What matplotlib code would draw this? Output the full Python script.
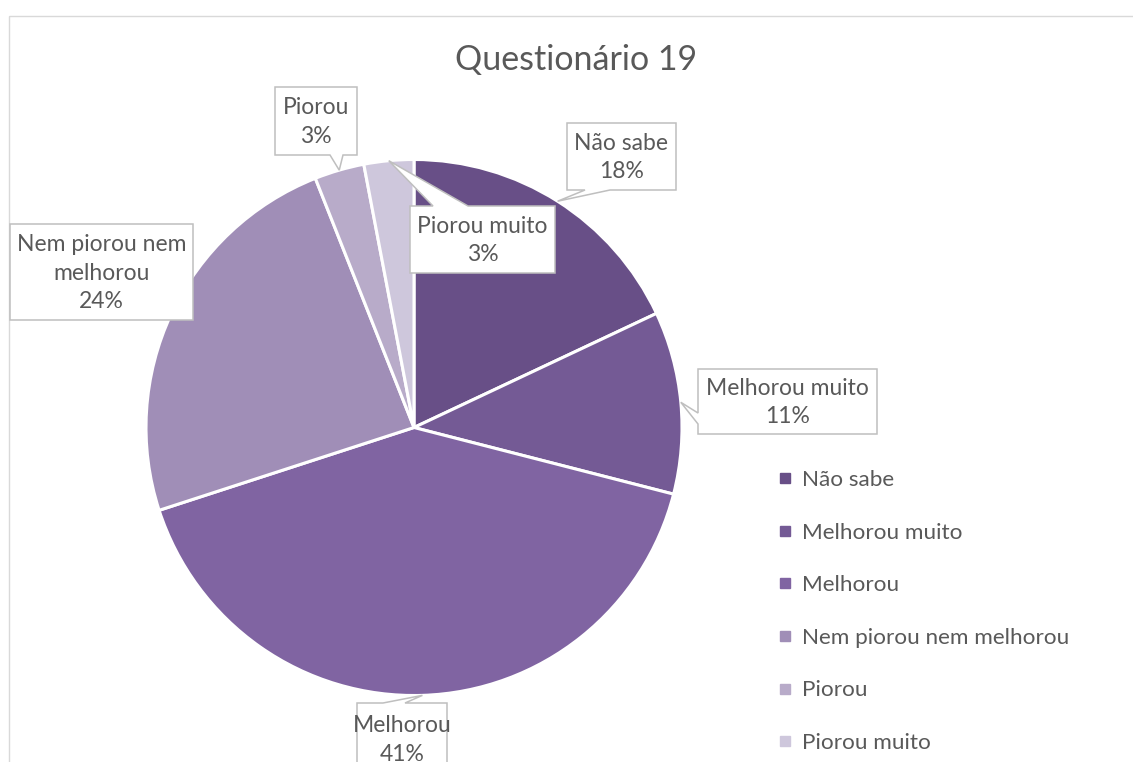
import matplotlib
matplotlib.use("Agg")
import matplotlib.pyplot as plt
import numpy as np
from matplotlib.patches import Polygon, Rectangle
from matplotlib.lines import Line2D

# Survey answers (percent of respondents)
categories = ["Não sabe", "Melhorou muito", "Melhorou",
              "Nem piorou nem melhorou", "Piorou", "Piorou muito"]
values = [18, 11, 41, 24, 3, 3]
label_texts = ["Não sabe", "Melhorou muito", "Melhorou",
               "Nem piorou nem\nmelhorou", "Piorou", "Piorou muito"]
colors = ["#684F87", "#745A95", "#8064A2", "#A08EB7", "#B8ABC9", "#CEC7DC"]
title = "Questionário 19"

W, H = 1133, 762
FONT = "Lato"
TEXT = "#595959"
fig = plt.figure(figsize=(W / 100, H / 100), dpi=100)
fig.patch.set_facecolor("white")

# chart frame
fig.add_artist(Rectangle((8.5 / W, 1 - 16 / H), 2, -2, transform=fig.transFigure,
                         fill=False, edgecolor="#D9D9D9", linewidth=1.0))

cx, cy, R = 414, 427.5, 268
ax = fig.add_axes([(cx - R) / W, 1 - (cy + R) / H, 2 * R / W, 2 * R / H])
ax.axis("off")

wedges, _ = ax.pie(values, colors=colors, startangle=90, counterclock=False,
                   radius=1.0, center=(0, 0), frame=False,
                   wedgeprops=dict(edgecolor="white", linewidth=2.2))
ax.set_xlim(-1, 1)
ax.set_ylim(-1, 1)
ax.set_aspect("auto")

fig.text(576 / W, 1 - 60 / H, title, ha="center", va="center",
         fontsize=24.5, color=TEXT, family=FONT)


def to_fig(px, py):
    return (px / W, 1 - py / H)


def edge_point(i):
    w = wedges[i]
    ang = np.deg2rad((w.theta1 + w.theta2) / 2)
    disp = ax.transData.transform((np.cos(ang), np.sin(ang)))
    fx, fy = fig.transFigure.inverted().transform(disp)
    return fx * W, (1 - fy) * H


# callout boxes: (x0, y0, x1, y1), side carrying the pointer, pointer base span
boxes = [
    ((567, 123, 676, 190), "bottom", (585, 610)),
    ((698, 369, 877, 434), "left", (413, 424)),
    ((357, 703, 447, 800), "top", (383, 405)),
    ((10, 224, 193, 320), None, None),
    ((275, 87, 357, 155), "bottom", (330, 343)),
    ((410, 206, 555, 273), "top", (433, 468)),
]

for i, (box, side, base) in enumerate(boxes):
    x0, y0, x1, y1 = box
    tip = edge_point(i)
    if side == "bottom":
        pts = [(x0, y0), (x1, y0), (x1, y1), (base[1], y1), tip, (base[0], y1), (x0, y1)]
    elif side == "top":
        pts = [(x0, y0), (base[0], y0), tip, (base[1], y0), (x1, y0), (x1, y1), (x0, y1)]
    elif side == "left":
        pts = [(x0, y0), (x1, y0), (x1, y1), (x0, y1), (x0, base[1]), tip, (x0, base[0])]
    else:
        pts = [(x0, y0), (x1, y0), (x1, y1), (x0, y1)]
    poly = Polygon([to_fig(*p) for p in pts], closed=True, transform=fig.transFigure,
                   facecolor="white", edgecolor="#BFBFBF", linewidth=1.1, zorder=5)
    fig.add_artist(poly)
    txt = f"{label_texts[i]}\n{values[i]}%"
    ty = (y0 + y1) / 2
    if i == 2:
        ty = 739
    fig.text(*to_fig((x0 + x1) / 2, ty + 1), txt, ha="center", va="center",
             fontsize=16.5, color=TEXT, family=FONT, linespacing=1.42, zorder=6)

# legend
handles = [Line2D([], [], linestyle="none", marker="s", markersize=6.5,
                  markerfacecolor=c, markeredgecolor=c) for c in colors]
leg = fig.legend(handles, categories, loc="upper left",
                 bbox_to_anchor=(777 / W, 1 - 470 / H), frameon=False,
                 prop=dict(family=FONT, size=16.2), labelcolor=TEXT,
                 handlelength=0.7, handletextpad=0.4, labelspacing=1.45,
                 borderpad=0, borderaxespad=0)

fig.savefig("out.png", dpi=100, facecolor="white")
